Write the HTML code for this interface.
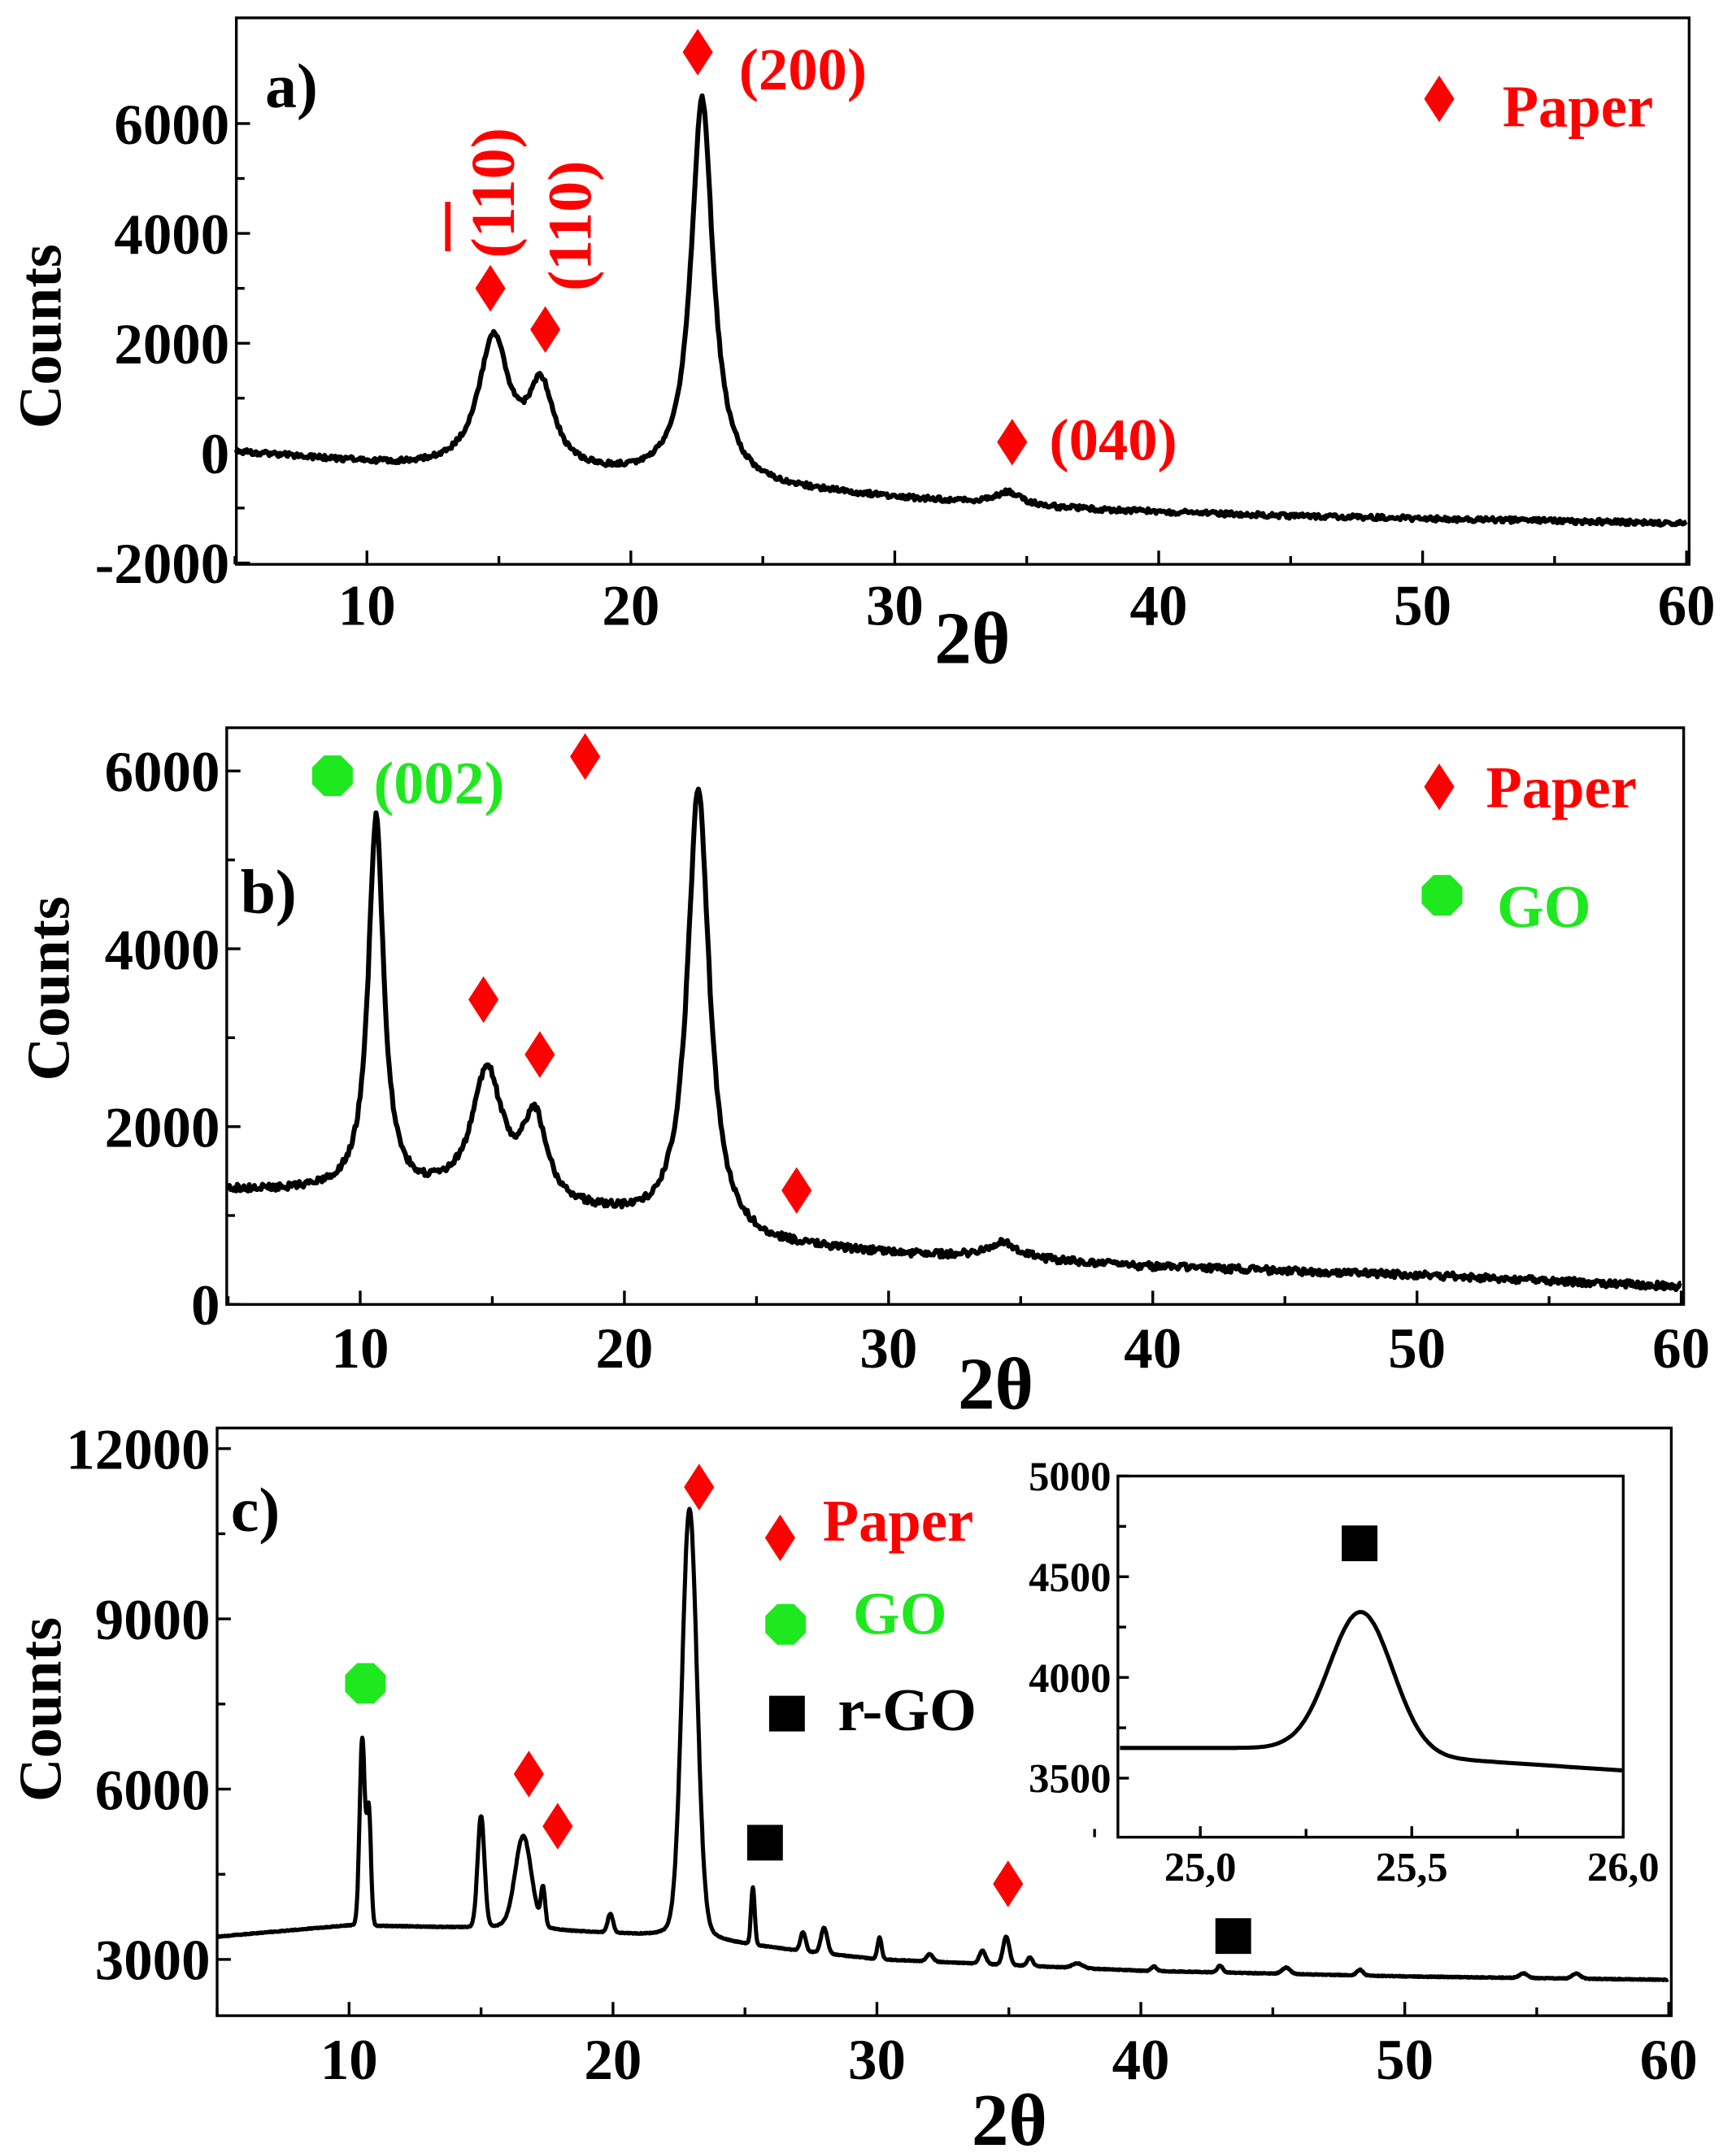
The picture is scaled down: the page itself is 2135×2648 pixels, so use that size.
<!DOCTYPE html>
<html><head><meta charset="utf-8"><style>
html,body{margin:0;padding:0;background:#fff}
svg{display:block}
text{font-family:"Liberation Serif",serif;font-weight:bold}
</style></head><body>
<svg id="s" width="2135" height="2648" viewBox="0 0 1264 1568" xmlns="http://www.w3.org/2000/svg">
<rect width="1264" height="1568" fill="#fff"/>
<g id="g"></g>
<g font-size="40" fill="#000">
<text x="193" y="78" font-size="46" font-weight="normal">a)</text>
<text x="175" y="665" font-size="46" font-weight="normal">b)</text>
<text x="168" y="1115" font-size="46" font-weight="normal">c)</text>
<text x="708" y="483" font-size="54" text-anchor="middle">2θ</text>
<text x="725" y="1026" font-size="54" text-anchor="middle">2θ</text>
<text x="735" y="1562" font-size="54" text-anchor="middle">2θ</text>
<text transform="translate(44,245) rotate(-90)" text-anchor="middle" font-size="44">Counts</text>
<text transform="translate(50,720) rotate(-90)" text-anchor="middle" font-size="44">Counts</text>
<text transform="translate(44,1245) rotate(-90)" text-anchor="middle" font-size="44">Counts</text>
</g>
<g font-size="43" fill="#f00">
<text x="538" y="65">(200)</text>
<text x="764" y="335">(040)</text>
<text x="1094" y="92">Paper</text>
<text transform="translate(374,188) rotate(-90)" font-size="45">(110)</text>
<line x1="326" y1="147" x2="326" y2="183" stroke="#f00" stroke-width="4"/>
<text transform="translate(430,212) rotate(-90)" font-size="45">(110)</text>
<text x="1082" y="588">Paper</text>
<text x="599" y="1122">Paper</text>
</g>
<g font-size="44" fill="#1ee81e">
<text x="272" y="585">(002)</text>
<text x="1090" y="675">GO</text>
<text x="621" y="1190">GO</text>
</g>
<text x="610" y="1260" font-size="44">r-GO</text>
</svg>
<script>
var g=document.getElementById('g'),NS='http://www.w3.org/2000/svg';
function el(t,a){var e=document.createElementNS(NS,t);for(var k in a)e.setAttribute(k,a[k]);g.appendChild(e);return e;}
function txt(x,y,s,fs,anc){var e=el('text',{x:x,y:y,'font-size':fs,'text-anchor':anc||'middle'});e.textContent=s;}
var seed=1;function rnd(){seed=(seed*16807)%2147483647;return seed/2147483647-0.5;}
function L(x,c,a,w){return a/(1+((x-c)/w)*((x-c)/w));}
function G(x,c,a,w){return a*Math.exp(-0.5*((x-c)/w)*((x-c)/w));}
function interp(x,pts){for(var i=0;i<pts.length-1;i++){if(x<=pts[i+1][0]){var t=(x-pts[i][0])/(pts[i+1][0]-pts[i][0]);return pts[i][1]+t*(pts[i+1][1]-pts[i][1]);}}return pts[pts.length-1][1];}
function panel(P){
 var X=function(v){return P.x0+(v-P.vx0)*P.sx;},Y=function(v){return P.y0-(v-P.vy0)*P.sy;};
 el('rect',{x:P.L,y:P.T,width:P.R-P.L,height:P.B-P.T,fill:'none',stroke:'#000','stroke-width':2});
 P.xt.forEach(function(v){var px=X(v);el('line',{x1:px,y1:P.B,x2:px,y2:P.B-(P.maj||10),stroke:'#000','stroke-width':2});txt(px,P.B+P.xlo,P.fmt?P.fmt(v):v,P.fs);});
 (P.xm||[]).forEach(function(v){var px=X(v);el('line',{x1:px,y1:P.B,x2:px,y2:P.B-6,stroke:'#000','stroke-width':2});});
 P.yt.forEach(function(v){var py=Y(v);el('line',{x1:P.L,y1:py,x2:P.L+(P.maj||10),y2:py,stroke:'#000','stroke-width':2});txt(P.L-5,py+P.fs*0.35,v,P.fs,'end');});
 (P.ym||[]).forEach(function(v){var py=Y(v);el('line',{x1:P.L,y1:py,x2:P.L+6,y2:py,stroke:'#000','stroke-width':2});});
 var d='';for(var v=P.a;v<=P.b;v+=P.st){var yy=P.f(v)+(P.n||0)*rnd();d+=(d?'L':'M')+X(v).toFixed(1)+' '+Y(yy).toFixed(1);}
 el('path',{d:d,fill:'none',stroke:'#000','stroke-width':P.lw||3.6,'stroke-linejoin':'round'});
}
function rng(a,b,s){var r=[];for(var v=a;v<=b+1e-9;v+=s)r.push(Math.round(v*100)/100);return r;}
panel({L:172,T:13,R:1230,B:411,x0:171,vx0:5,sx:19.22,y0:330,vy0:0,sy:0.04,fs:42,xlo:44,
 xt:[10,20,30,40,50,60],xm:rng(5,55,10),yt:[-2000,0,2000,4000,6000],ym:[-1000,1000,3000,5000],
 a:5,b:60,st:0.05,n:90,f:function(x){var b=interp(x,[[5,20],[12,-280],[20,-480],[27,-720],[35,-1000],[45,-1150],[60,-1280]]);
 return b+L(x,14.8,2350,0.7)+L(x,16.6,1450,0.6)+L(x,22.7,7000,0.5)+L(x,34.3,250,0.7);}});
panel({L:165,T:530,R:1226,B:950,x0:166,vx0:5,sx:19.24,y0:950,vy0:0,sy:0.06475,fs:42,xlo:46,
 xt:[10,20,30,40,50,60],xm:rng(5,55,10),yt:[0,2000,4000,6000],ym:[1000,3000,5000],
 a:5,b:60,st:0.05,n:80,f:function(x){var b=interp(x,[[5,1280],[10,1250],[13,1180],[19.5,950],[25,650],[30,560],[40,420],[50,330],[60,200]]);
 return b+L(x,10.6,4200,0.35)+L(x,14.8,1450,0.7)+L(x,16.6,950,0.55)+L(x,22.8,5000,0.5)+L(x,34.3,180,0.8);}});
panel({L:158,T:1040,R:1217,B:1468,x0:158,vx0:5,sx:19.22,y0:1427,vy0:3000,sy:0.04133,fs:42,xlo:46,
 xt:[10,20,30,40,50,60],xm:rng(5,55,10),yt:[3000,6000,9000,12000],ym:[4500,7500,10500],
 a:5,b:60,st:0.02,n:15,lw:3,f:function(x){var b=interp(x,[[5,3400],[10,3600],[15,3550],[20,3450],[25,3250],[30,3000],[40,2800],[50,2700],[60,2640]]);
 var pk=[[10.5,3300,0.1],[10.75,2000,0.08],[15.0,1950,0.13],[16.6,1450,0.3],[17.35,650,0.08],[19.9,330,0.1],[22.9,7100,0.28],[25.3,1000,0.07],[27.2,330,0.1],[28.0,450,0.12],[30.1,380,0.08],[32.0,130,0.12],[34.0,230,0.12],[34.9,500,0.12],[35.8,150,0.1],[37.6,80,0.2],[40.5,80,0.1],[43.0,120,0.1],[45.5,110,0.15],[48.3,100,0.12],[54.5,80,0.15],[56.5,90,0.15]];
 pk.forEach(function(p){b+=G(x,p[0],p[1],p[2]);});return b+L(x,22.9,500,0.6)+L(x,16.6,200,0.6);}});
el('rect',{x:814,y:1075,width:368,height:263,fill:'#fff'});
panel({L:814,T:1075,R:1182,B:1338,x0:874,vx0:25,sx:308,y0:1295,vy0:3500,sy:0.1467,fs:30,xlo:32,maj:8,
 fmt:function(v){return v.toFixed(1).replace('.',',');},
 xt:[25,25.5,26],xm:[24.75,25.25,25.75],yt:[3500,4000,4500,5000],ym:[3750,4250,4750],
 a:24.81,b:26.0,st:0.005,lw:3,f:function(x){return 3650+G(x,25.38,700,0.075)-140*Math.max(0,x-25.2);}});
function dia(x,y){el('path',{d:'M'+x+' '+(y-17)+'L'+(x+11)+' '+y+'L'+x+' '+(y+17)+'L'+(x-11)+' '+y+'Z',fill:'#f00'});}
function oct(x,y){var d='';for(var i=0;i<8;i++){var a=Math.PI/8+i*Math.PI/4;d+=(i?'L':'M')+(x+16*Math.cos(a)).toFixed(1)+' '+(y+16*Math.sin(a)).toFixed(1);}el('path',{d:d+'Z',fill:'#1ee81e'});}
function sq(x,y){el('rect',{x:x-13,y:y-13,width:26,height:26,fill:'#000'});}
[[357,210],[397,240],[508,38],[737,322],[1048,72],[426,551],[352,728],[393,768],[580,867],[1048,573],[509,1083],[568,1120],[385,1292],[406,1330],[734,1372]].forEach(function(p){dia(p[0],p[1]);});
[[242,565],[1050,652],[572,1183],[266,1226]].forEach(function(p){oct(p[0],p[1]);});
[[573,1248],[557,1342],[898,1410],[990,1124]].forEach(function(p){sq(p[0],p[1]);});
</script>
</body></html>
